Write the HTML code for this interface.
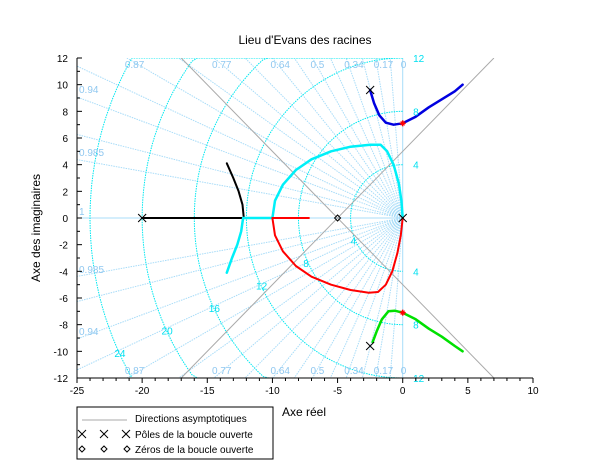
<!DOCTYPE html>
<html><head><meta charset="utf-8"><style>
html,body{margin:0;padding:0;background:#fff;width:610px;height:470px;overflow:hidden;}
svg{display:block;font-family:"Liberation Sans","DejaVu Sans",sans-serif;}
</style></head><body>
<svg id="s" width="610" height="470" xmlns="http://www.w3.org/2000/svg"></svg>
<script>
const S=document.getElementById('s');
const X=v=>77+(v+25)*456/35, Y=v=>218-v*160/12;
let h='';
const ln=(x1,y1,x2,y2,st)=>h+=`<line x1="${x1}" y1="${y1}" x2="${x2}" y2="${y2}" ${st}/>`;
const tx=(x,y,t,st)=>h+=`<text x="${x}" y="${y}" ${st}>${t}</text>`;
h+='<defs><clipPath id="c"><rect x="77" y="58" width="456" height="320"/></clipPath></defs><g clip-path="url(#c)">';
const zs=[0,0.08,0.17,0.25,0.34,0.42,0.5,0.57,0.64,0.71,0.77,0.82,0.87,0.91,0.94,0.97,0.985,1];
zs.forEach(z=>{const th=Math.acos(z);const c=Math.cos(th),s=Math.sin(th);
 const R=Math.min(c>1e-6?25/c:1e9,s>1e-6?12/s:1e9);
 const st=(z==0||z==1)?'stroke="#a8dcf8" stroke-width="1"':'stroke="#a8dcf8" stroke-width="1" stroke-dasharray="1.5,1"';
 ln(X(0),Y(0),X(-R*c),Y(R*s),st);ln(X(0),Y(0),X(-R*c),Y(-R*s),st);});
[4,8,12,16,20,24].forEach(r=>{let d='';for(let i=0;i<=90;i++){const a=Math.PI/2+i*Math.PI/90;
 let x=Math.max(-25,r*Math.cos(a)),y=Math.max(-12,Math.min(12,r*Math.sin(a)));
 d+=(i?'L':'M')+X(x).toFixed(1)+','+Y(y).toFixed(1);}
 h+=`<path d="${d}" fill="none" stroke="#00e8f0" stroke-width="1" stroke-dasharray="1.5,1"/>`;});
ln(X(-17),Y(-12),X(7),Y(12),'stroke="#aaa" stroke-width="1"');ln(X(-17),Y(12),X(7),Y(-12),'stroke="#aaa" stroke-width="1"');
const pl=(pts,c,w)=>{h+=`<polyline points="${pts.map(p=>X(p[0]).toFixed(1)+','+Y(p[1]).toFixed(1)).join(' ')}" fill="none" stroke="${c}" stroke-width="${w}" stroke-linejoin="round" stroke-linecap="round"/>`;};
pl([[-20,0],[-12.2,0]],'#000',2);
pl([[-12.2,0],[-12.3,1],[-12.6,2],[-13,3],[-13.5,4.1]],'#000',2);
pl([[-12.2,0],[-10,0]],'#00f0f8',2.5);
pl([[-12.25,0],[-12.4,-1],[-12.7,-2],[-13.1,-3],[-13.5,-4.1]],'#00f0f8',2.5);
pl([[-10,0],[-9.8,1.3],[-9.2,2.5],[-8.2,3.6],[-7,4.4],[-5.5,5],[-4,5.35],[-2.5,5.5],[-1.7,5.5],[-1.2,5],[-0.7,4],[-0.3,2.6],[-0.1,1.3],[0,0]],'#00f0f8',2.5);
pl([[-7.2,0],[-10,0]],'#f00',2);
pl([[-10,0],[-9.8,-1.3],[-9.2,-2.5],[-8.2,-3.6],[-7,-4.4],[-5.5,-5],[-4,-5.4],[-2.6,-5.6],[-1.9,-5.55],[-1.3,-5],[-0.8,-4],[-0.4,-2.6],[-0.15,-1.3],[0,0]],'#f00',2);
pl([[-2.5,9.6],[-2.2,8.6],[-1.8,7.7],[-1.3,7.15],[-0.7,7.0],[0,7.1],[1,7.6],[2,8.3],[3,8.9],[4,9.5],[4.6,10]],'#0000e0',2.5);
pl([[-2.3,-9.3],[-2,-8.5],[-1.6,-7.6],[-1.1,-7.0],[-0.6,-6.95],[0,-7.1],[1,-7.6],[2,-8.3],[3,-8.9],[4,-9.6],[4.6,-10]],'#00e000',2.5);
h+='</g>';
const star=(x,y)=>{ln(x-3,y,x+3,y,'stroke="#f00" stroke-width="1.5"');ln(x,y-3,x,y+3,'stroke="#f00" stroke-width="1.5"');ln(x-2,y-2,x+2,y+2,'stroke="#f00"');ln(x-2,y+2,x+2,y-2,'stroke="#f00"');};
star(X(0),Y(7.1));star(X(0),Y(-7.1));
const cross=(x,y)=>{ln(x-4,y-4,x+4,y+4,'stroke="#000"');ln(x-4,y+4,x+4,y-4,'stroke="#000"');};
const dia=(x,y)=>h+=`<path d="M${x-3},${y}L${x},${y-3}L${x+3},${y}L${x},${y+3}Z" fill="none" stroke="#000"/>`;
[[-20,0],[0,0],[-2.5,9.6],[-2.5,-9.6]].forEach(p=>cross(X(p[0]),Y(p[1])));
dia(X(-5),Y(0));
const lb='fill="#90c8f0" font-size="10"';
[['0.87',0.87],['0.77',0.77],['0.64',0.64],['0.5',0.5],['0.34',0.34],['0.17',0.17],['0',0]].forEach(([t,z])=>{const th=Math.acos(z);const xx=z==0?0:-12/Math.tan(th);const px=X(xx)-2;tx(px,68,t,lb);tx(px,374,t,lb);});
tx(79,93,'0.94',lb);tx(79,156,'0.985',lb);tx(79,215,'1',lb);
tx(79,273,'0.985',lb);tx(79,335,'0.94',lb);
const cl='fill="#00e0f0" font-size="10"';
[4,8,12].forEach(r=>{tx(X(0.8),Y(r)+4,r,cl);tx(X(0.8),Y(-r)+4,r,cl);});
[4,8,12,16,20,24].forEach(r=>{const a=205*Math.PI/180;tx(X(r*Math.cos(a))-5,Y(r*Math.sin(a))+4,r,cl);});
ln(77,58,77,378,'stroke="#000"');ln(77,378,533,378,'stroke="#000"');
for(let v=-25;v<=10;v++){const big=v%5==0;ln(X(v),378,X(v),378+(big?5:3),'stroke="#000"');if(big)tx(X(v),394,v,'font-size="10" text-anchor="middle"');}
for(let v=-12;v<=12;v++){const big=v%2==0;ln(77,Y(v),77+(big?5:3),Y(v),'stroke="#000"');if(big)tx(68,Y(v)+4,v,'font-size="10" text-anchor="end"');}
tx(305,44,"Lieu d'Evans des racines",'font-size="12" text-anchor="middle"');
tx(304,416,'Axe réel','font-size="12" text-anchor="middle"');
tx(40,228,'Axe des imaginaires','font-size="12" text-anchor="middle" transform="rotate(-90 40 228)"');
h+='<rect x="77" y="407" width="196" height="52" fill="#fff" stroke="#000"/>';
ln(82,420,127,420,'stroke="#aaa"');tx(135,422,'Directions asymptotiques','font-size="10"');
[82,104,126].forEach(x=>cross(x,434));tx(135,438,'Pôles de la boucle ouverte','font-size="10"');
[82,104,127].forEach(x=>dia(x,449));tx(135,453,'Zéros de la boucle ouverte','font-size="10"');
S.innerHTML=h;
</script>
</body></html>
